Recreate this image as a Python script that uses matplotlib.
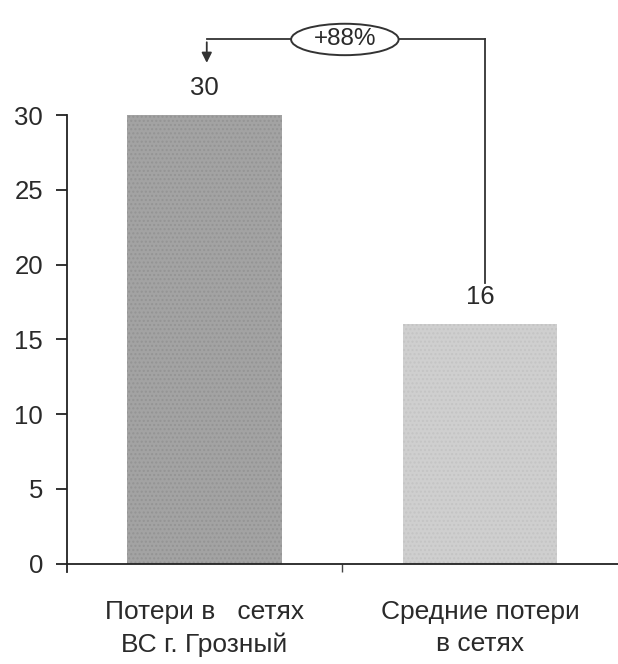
import numpy as np
import matplotlib
matplotlib.use("Agg")
import matplotlib.pyplot as plt
from matplotlib.patches import Ellipse

plt.rcParams['font.family'] = ['Liberation Sans', 'DejaVu Sans']

# chart data
categories = ['Потери в   сетях\nВС г. Грозный', 'Средние потери\nв сетях']
values = [30, 16]
bar_colors = ['#a3a3a3', '#cfcfcf']
yticks = [0, 5, 10, 15, 20, 25, 30]
diff_label = '+88%'

txt = '#2a2a2a'

fig = plt.figure(figsize=(6.18, 6.64), dpi=100)
ax = fig.add_axes([0.108, 0.1386, 0.892, 0.6882])

x = np.arange(len(values))
bars = ax.bar(x, values, width=0.56, color=bar_colors, edgecolor='none', zorder=2)
for b, c in zip(bars, ['#949494', '#c4c4c4']):
    b.set_hatch('....')
    b.set_edgecolor(c)
    b.set_linewidth(0)

ax.set_xlim(-0.5, 1.5)
ax.set_ylim(-0.55, 30)
ax.spines['bottom'].set_position(('data', 0))
ax.spines['top'].set_visible(False)
ax.spines['right'].set_visible(False)
for s in ('left', 'bottom'):
    ax.spines[s].set_color('#222222')
    ax.spines[s].set_linewidth(1.3)

ax.set_yticks(yticks)
ax.set_yticklabels([str(t) for t in yticks], fontsize=18.5, color=txt)
ax.tick_params(axis='y', length=8, width=1.3, color='#222222', pad=9)

ax.set_xticks(x)
ax.set_xticklabels(categories, fontsize=19, color=txt, linespacing=1.45)
ax.tick_params(axis='x', which='major', length=0, pad=26)
ax.set_xticks([0.5], minor=True)
ax.tick_params(axis='x', which='minor', length=6, width=1, color='#444444')

# value labels
for xi, v in zip(x, values):
    ax.text(xi, v + 1.0, str(v), ha='center', va='bottom', fontsize=18.5, color=txt, clip_on=False)

# bracket connector with percentage
top = 35.05
ax.plot([x[1] + 0.017, x[1] + 0.017], [18.8, top], color='#333333', lw=1.3, clip_on=False)
ax.plot([x[0] + 0.008, x[1] + 0.017], [top, top], color='#333333', lw=1.3, clip_on=False)
ax.annotate('', xy=(x[0] + 0.008, 33.3), xytext=(x[0] + 0.008, top),
            arrowprops=dict(arrowstyle='-|>', color='#333333', lw=1.3, mutation_scale=15),
            annotation_clip=False)
ell = Ellipse((0.509, top), 0.39, 2.1, facecolor='white', edgecolor='#333333', lw=1.4,
              clip_on=False, zorder=3)
ax.add_patch(ell)
ax.text(0.509, top, diff_label, ha='center', va='center', fontsize=17.5, color=txt,
        zorder=4, clip_on=False)

fig.savefig('out.png', dpi=100)
